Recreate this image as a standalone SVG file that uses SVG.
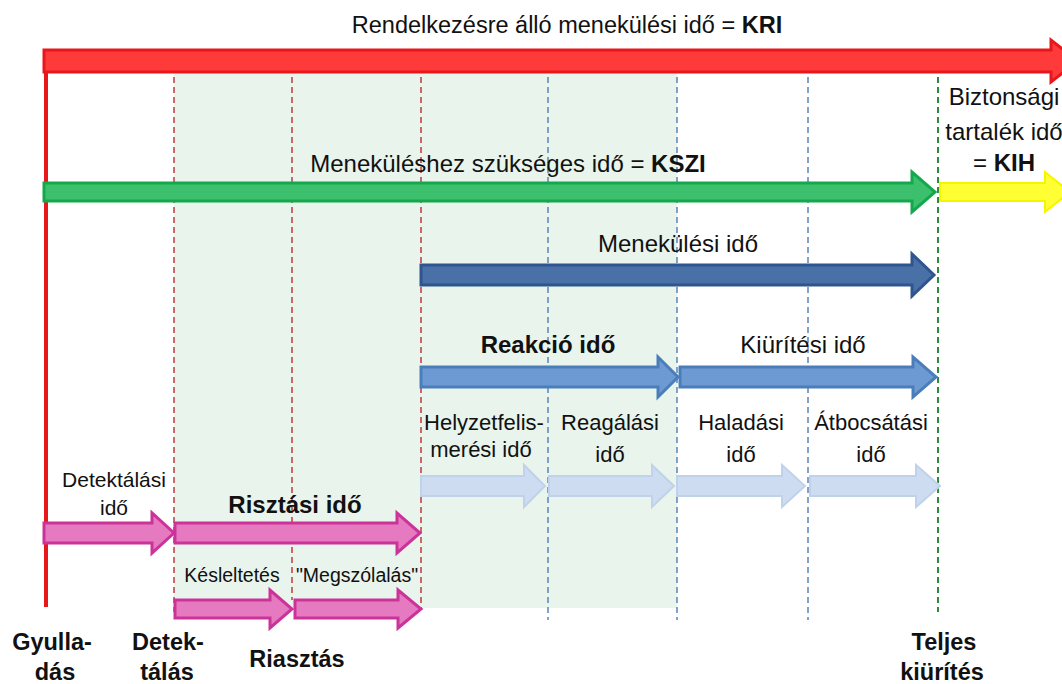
<svg xmlns="http://www.w3.org/2000/svg" width="1062" height="684" viewBox="0 0 1062 684">
<style>
text{font-family:"Liberation Sans",Arial,sans-serif;fill:#111;text-anchor:middle}
.t24{font-size:24px}
.t23{font-size:23.5px}
.t22{font-size:22px}
.t21{font-size:21px}
.t19{font-size:19.5px}
.b{font-weight:bold}
.dr{stroke:#c0393b;stroke-width:1.5;stroke-dasharray:6 4;fill:none}
.db{stroke:#5b84b8;stroke-width:1.5;stroke-dasharray:6 4;fill:none}
.dg{stroke:#2e8b3e;stroke-width:2;stroke-dasharray:6 4;fill:none}
.red{fill:#ff3a3a;stroke:#e8171b;stroke-width:3}
.grn{fill:#3cc06d;stroke:#14a84c;stroke-width:3}
.yel{fill:#ffff33;stroke:#f5f500;stroke-width:2}
.dbl{fill:#4a70a8;stroke:#2f558f;stroke-width:3}
.mbl{fill:#6e9ad4;stroke:#4a7ebb;stroke-width:3}
.lbl{fill:#cddcf0;stroke:#c0d2ea;stroke-width:2}
.pnk{fill:#e67ac0;stroke:#cc3399;stroke-width:3}
</style>
<rect width="1062" height="684" fill="#fff"/>
<rect id="shade" x="174" y="72" width="503" height="536" fill="#e8f4ec"/>
<g id="gridlines">
<line class="dr" x1="174" y1="57" x2="174" y2="612"/>
<line class="dr" x1="292" y1="57" x2="292" y2="600"/>
<line class="dr" x1="421" y1="57" x2="421" y2="610"/>
<line class="db" x1="548" y1="57" x2="548" y2="620"/>
<line class="db" x1="677" y1="57" x2="677" y2="620"/>
<line class="db" x1="808" y1="57" x2="808" y2="620"/>
<line class="dg" x1="938" y1="57" x2="938" y2="612"/>
</g>
<g id="connectors">
<line x1="46" y1="52" x2="46" y2="607" stroke="#e8171b" stroke-width="4"/>
<path id="kri" class="red" d="M44 50 L1051 50 L1051 40 L1078 61 L1051 82 L1051 72 L44 72 Z"/>
<path id="kszi" class="grn" d="M44 183 L912 183 L912 172 L935 192 L912 212 L912 201 L44 201 Z"/>
<path id="kih" class="yel" d="M940 183 L1045 183 L1045 172 L1070 192 L1045 212 L1045 201 L940 201 Z"/>
<path id="menek" class="dbl" d="M421 265 L912 265 L912 254 L934 275 L912 296 L912 285 L421 285 Z"/>
<path id="reakcio" class="mbl" d="M421 367 L658 367 L658 357 L678 377 L658 397 L658 387 L421 387 Z"/>
<path id="kiurit" class="mbl" d="M680 367 L913 367 L913 357 L936 377 L913 397 L913 387 L680 387 Z"/>
<path class="lbl" d="M421 476 L524 476 L524 465 L545 486 L524 507 L524 496 L421 496 Z"/>
<path class="lbl" d="M549 476 L652 476 L652 465 L674 486 L652 507 L652 496 L549 496 Z"/>
<path class="lbl" d="M677 476 L782 476 L782 465 L805 486 L782 507 L782 496 L677 496 Z"/>
<path class="lbl" d="M810 476 L916 476 L916 465 L940 486 L916 507 L916 496 L810 496 Z"/>
<path class="pnk" d="M44 523 L152 523 L152 513 L174 533 L152 553 L152 543 L44 543 Z"/>
<path class="pnk" d="M175 523 L397 523 L397 513 L420 533 L397 553 L397 543 L175 543 Z"/>
<path class="pnk" d="M175 600 L270 600 L270 590 L292 609 L270 628 L270 618 L175 618 Z"/>
<path class="pnk" d="M295 600 L398 600 L398 590 L421 609 L398 628 L398 618 L295 618 Z"/>
</g>
<g id="labels">
<text class="t23" x="567" y="33">Rendelkezésre álló menekülési idő = <tspan class="b">KRI</tspan></text>
<text class="t24" x="508" y="172">Meneküléshez szükséges idő = <tspan class="b">KSZI</tspan></text>
<text class="t24" x="1004" y="105">Biztonsági</text>
<text class="t24" x="1004" y="140">tartalék idő</text>
<text class="t24" x="1004" y="171">= <tspan class="b">KIH</tspan></text>
<text class="t24" x="678" y="252">Menekülési idő</text>
<text class="t24 b" x="548" y="353">Reakció idő</text>
<text class="t24" x="803" y="353">Kiürítési idő</text>
<text class="t22" x="484" y="430">Helyzetfelis-</text>
<text class="t22" x="481" y="457">merési idő</text>
<text class="t22" x="610" y="430">Reagálási</text>
<text class="t22" x="610" y="462">idő</text>
<text class="t22" x="741" y="430">Haladási</text>
<text class="t22" x="741" y="462">idő</text>
<text class="t22" x="871" y="430">Átbocsátási</text>
<text class="t22" x="871" y="462">idő</text>
<text class="t21" x="114" y="487">Detektálási</text>
<text class="t21" x="114" y="515">idő</text>
<text class="t24 b" x="295" y="513">Risztási idő</text>
<text class="t19" x="232" y="582">Késleltetés</text>
<text class="t19" x="357" y="582">"Megszólalás"</text>
<text class="t23 b" x="52" y="650">Gyulla-</text>
<text class="t23 b" x="55" y="680">dás</text>
<text class="t23 b" x="168" y="650">Detek-</text>
<text class="t23 b" x="167" y="680">tálás</text>
<text class="t23 b" x="297" y="667">Riasztás</text>
<text class="t23 b" x="944" y="650">Teljes</text>
<text class="t23 b" x="942" y="680">kiürítés</text>
</g>
</svg>
